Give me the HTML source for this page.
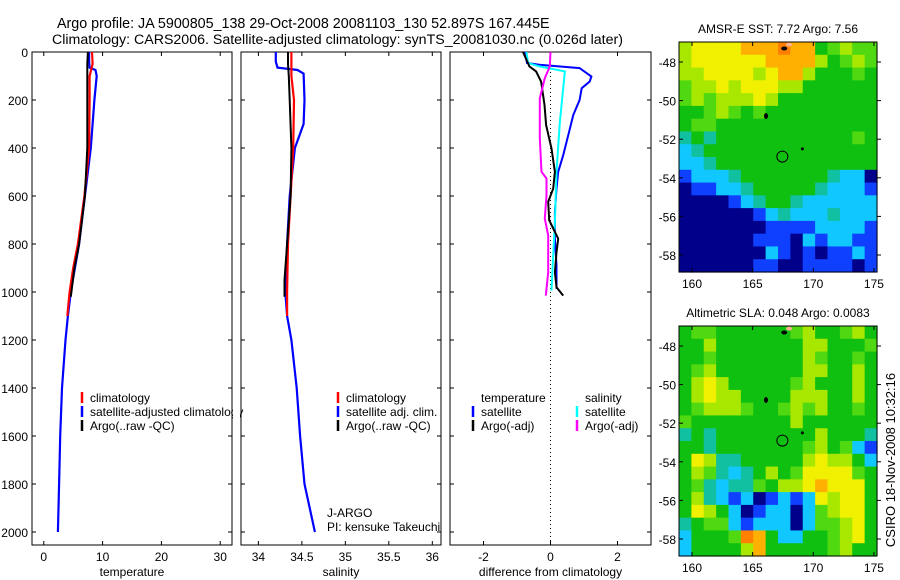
<!DOCTYPE html>
<html><head><meta charset="utf-8"><style>
body{margin:0;background:#fff;width:900px;height:580px;overflow:hidden}
svg{display:block;font-family:"Liberation Sans",sans-serif}
</style></head><body>
<svg id="c" width="900" height="580"></svg>
<script>
// ---- profile data ----
const tDepth=[0,40,65,75,100,200,400,600,800,900,1000,1100,1200,1400,1600,1800,2000];
const tSat=[7.7,7.7,7.8,8.8,9.0,8.6,8.0,7.0,6.0,5.3,4.6,4.1,3.7,3.1,2.8,2.6,2.4];
const tClimDepth=[0,50,100,200,400,600,800,900,1000,1100];
const tClim=[8.2,8.3,7.8,7.8,7.7,6.9,5.8,5.0,4.4,4.0];
const tArgoDepth=[0,50,100,200,400,600,800,900,1020];
const tArgo=[7.5,7.4,7.4,7.4,7.4,7.0,6.0,5.2,4.6];
const sDepth=[0,40,65,75,90,200,300,400,600,800,1000,1100,1200,1400,1600,1800,2000];
const sSat=[34.2,34.2,34.22,34.45,34.52,34.53,34.52,34.42,34.36,34.33,34.31,34.33,34.38,34.44,34.48,34.53,34.65];
const sClimDepth=[0,50,100,200,400,600,800,1000,1100];
const sClim=[34.38,34.38,34.38,34.41,34.40,34.37,34.34,34.33,34.33];
const sArgoDepth=[0,50,100,200,400,600,800,950,1020];
const sArgo=[34.34,34.34,34.35,34.36,34.38,34.37,34.33,34.30,34.30];
const dTSatDepth=[0,46,53,67,102,123,151,200,262,346,430,499,569,667,778,890,987];
const dTSat=[-0.77,-0.70,-0.33,0.87,1.22,1.17,0.93,0.87,0.68,0.53,0.38,0.23,0.18,0.13,0.13,0.18,0.18];
const dSSatDepth=[0,46,60,81,151,290,499,708,848,994];
const dSSat=[-0.72,-0.67,-0.33,0.43,0.38,0.28,0.18,0.13,0.08,0.03];
const dTArgoDepth=[0,60,81,123,220,304,402,499,569,624,701,778,834,918,980,1015];
const dTArgo=[-0.82,-0.63,-0.43,-0.28,-0.18,-0.13,0.03,0.13,0.08,-0.07,-0.04,0.23,0.18,0.13,0.18,0.38];
const dSArgoDepth=[0,60,109,193,360,499,527,597,694,764,918,1015];
const dSArgo=[0.0,-0.02,-0.17,-0.32,-0.32,-0.27,-0.12,-0.12,-0.17,-0.07,-0.07,-0.14];
const depthTicks=[0,200,400,600,800,1000,1200,1400,1600,1800,2000];
const tTicks=[0,10,20,30];
const sTicks=[34,34.5,35,35.5,36];
const sTickLabels=["34","34.5","35","35.5","36"];
const dTicks=[-2,0,2];
// ---- map data ----
const latTicks=[48,50,52,54,56,58];
const lonTicks=[160,165,170,175];
const sstRows=["lyyyyoooroogGlGG","lyyyyyyoooolgGlG","llyyyylyoolgggGg","Gllylyyyllgggggg","GlGlllylgggggggg","ggGlGgGggggggggg","gGGggggggggggggg","tgtgggggggggggGg","ctgggggggggggggg","cctggggggggggggg","bccctgggggggtccd","dbbcctgggggtcccb","ddddbctggtcccccc","ddddddbctccctccc","dddddddbbbbccccb","ddddddbbbdcbccbb","dddddddcbdbdbbcb","ddddddbbddbbbbdb"];
const slaRows=["gGGggggggGlggGlg","gglgggggggllgggG","ggGggggggglGggGg","gGlgggggggllgglg","glylgggggGlggglg","glyllgggglllgglg","gGlllGggGlGlggGg","Ggggggggglgggggg","tgtgggggggglgggt","ggtgggggggGlgGcb","gylttggggglyllgc","glGtctglgGyyyyGg","gGtcttGgllyoyyyg","gltcbcdbcbcylyyg","gylgcdbccdcGlyyg","tgGGcbcccdcGGlyg","cgggGrogccggGlyg","cgggglogggggGlgg"];
const palette={d:"#00008a",b:"#1040ff",c:"#10c8ff",t:"#10c0a0",g:"#10c010",G:"#50d810",l:"#a8e800",y:"#f0f000",o:"#ffb000",r:"#ff8000"};

const svg=document.getElementById('c');
const NS="http://www.w3.org/2000/svg";
function mk(tag,attrs,parent){const e=document.createElementNS(NS,tag);for(const k in attrs)e.setAttribute(k,attrs[k]);(parent||svg).appendChild(e);return e;}
function txt(x,y,s,anchor,size,parent){const e=mk('text',{x:x,y:y,'text-anchor':anchor||'start','font-size':size||12,fill:'#000'},parent);e.textContent=s;return e;}

const Y0=52,Y1=545;
const yD=d=>Y0+0.24*d;
const panels=[
 {x0:32,x1:232,v0:-2,v1:32,name:'temperature-panel',label:'temperature',ticks:tTicks,tl:tTicks.map(String)},
 {x0:241,x1:441,v0:33.8,v1:36.1,name:'salinity-panel',label:'salinity',ticks:sTicks,tl:sTickLabels},
 {x0:450,x1:651,v0:-3,v1:3,name:'difference-panel',label:'difference from climatology',ticks:dTicks,tl:dTicks.map(String)}
];
panels.forEach(p=>{p.x=v=>p.x0+(v-p.v0)/(p.v1-p.v0)*(p.x1-p.x0);});

function line(p,vals,deps,color,w,name,g){
  const pts=vals.map((v,i)=>p.x(v).toFixed(1)+','+yD(deps[i]).toFixed(1)).join(' ');
  const e=mk('polyline',{points:pts,fill:'none',stroke:color,'stroke-width':w},g);
  
  
}

panels.forEach((p,pi)=>{
  const g=mk('g',{});
  
  
  mk('rect',{x:p.x0,y:Y0,width:p.x1-p.x0,height:Y1-Y0,fill:'#fff',stroke:'#000','stroke-width':1},g);
  p.ticks.forEach((t,i)=>{
    const x=p.x(t);
    mk('line',{x1:x,y1:Y1,x2:x,y2:Y1-4,stroke:'#000'},g);
    mk('line',{x1:x,y1:Y0,x2:x,y2:Y0+4,stroke:'#000'},g);
    const l=txt(x,561,p.tl[i],'middle',12,g);
    
    
  });
  depthTicks.forEach(d=>{
    const y=yD(d);
    mk('line',{x1:p.x0,y1:y,x2:p.x0+4,y2:y,stroke:'#000'},g);
    mk('line',{x1:p.x1,y1:y,x2:p.x1-4,y2:y,stroke:'#000'},g);
  });
  const xl=txt((p.x0+p.x1)/2,576,p.label,'middle',12,g);
  
  
});
depthTicks.forEach(d=>{
  const l=txt(28,yD(d)+5,String(d),'end',12);
  
  
});
const P1=panels[0],P2=panels[1],P3=panels[2];
line(P1,tSat,tDepth,'#0000ff',2.2,'temp-satellite-line');
line(P1,tClim,tClimDepth,'#ff0000',2.2,'temp-climatology-line');
line(P1,tArgo,tArgoDepth,'#000',2,'temp-argo-line');
line(P2,sSat,sDepth,'#0000ff',2.2,'sal-satellite-line');
line(P2,sClim,sClimDepth,'#ff0000',2.2,'sal-climatology-line');
line(P2,sArgo,sArgoDepth,'#000',2,'sal-argo-line');
const zl=mk('line',{x1:P3.x(0),y1:Y0,x2:P3.x(0),y2:Y1,stroke:'#000','stroke-dasharray':'1,3'});


line(P3,dTSat,dTSatDepth,'#0000ff',2,'diff-temp-satellite');
line(P3,dSSat,dSSatDepth,'#00ffff',2,'diff-sal-satellite');
line(P3,dTArgo,dTArgoDepth,'#000',2,'diff-temp-argo');
line(P3,dSArgo,dSArgoDepth,'#ff00ff',2,'diff-sal-argo');

function legend(x,y,items,name){
  const g=mk('g',{});
  
  
  items.forEach((it,i)=>{
    if(it[1])mk('line',{x1:x,y1:y+i*14-10,x2:x,y2:y+i*14+1,stroke:it[1],'stroke-width':2.5},g);
    txt(x+8,y+i*14,it[0],'start',12,g);
  });
}
legend(82,402,[['climatology','#f00'],['satellite-adjusted climatology','#00f'],['Argo(..raw -QC)','#000']],'temp-legend');
mk('rect',{x:233,y:380,width:7,height:60,fill:'#fff'});
legend(338,402,[['climatology','#f00'],['satellite adj. clim.','#00f'],['Argo(..raw -QC)','#000']],'sal-legend');
legend(473,402,[['temperature',null],['satellite','#00f'],['Argo(-adj)','#000']],'diff-temp-legend');
legend(577,402,[['salinity',null],['satellite','#0ff'],['Argo(-adj)','#f0f']],'diff-sal-legend');
txt(327,517,'J-ARGO','start',12);
txt(327,531,'PI: kensuke Takeuchi','start',12);

let t1=txt(57,28,'Argo profile: JA 5900805_138 29-Oct-2008 20081103_130 52.897S 167.445E','start',14.3);


let t2=txt(52,44,'Climatology: CARS2006. Satellite-adjusted climatology: synTS_20081030.nc (0.026d later)','start',14.2);



// ---- maps ----
function map(top,rows,title,name,cy){
  const L=679,R=877,B=top+230;
  const lonX=lo=>692+(lo-160)*12.13;
  const latY=la=>top+20+(la-48)*19.3;
  const g=mk('g',{});
  
  
  const nr=rows.length,nc=rows[0].length,cw=(R-L)/nc,ch=(B-top)/nr;
  rows.forEach((r,i)=>{for(let j=0;j<nc;j++){
    mk('rect',{x:(L+j*cw).toFixed(2),y:(top+i*ch).toFixed(2),width:(cw+0.6).toFixed(2),height:(ch+0.6).toFixed(2),fill:palette[r[j]]},g);
  }});
  mk('rect',{x:L,y:top,width:R-L,height:B-top,fill:'none',stroke:'#000'},g);
  latTicks.forEach(la=>{const y=latY(la);mk('line',{x1:L,y1:y,x2:L+4,y2:y,stroke:'#000'},g);mk('line',{x1:R,y1:y,x2:R+4,y2:y,stroke:'#000'},g);txt(L-3,y+5,'-'+la,'end',12,g);});
  lonTicks.forEach(lo=>{const x=lonX(lo);mk('line',{x1:x,y1:top,x2:x,y2:top+4,stroke:'#000'},g);mk('line',{x1:x,y1:B,x2:x,y2:B-4,stroke:'#000'},g);txt(x,B+16,String(lo),'middle',12,g);});
  mk('ellipse',{cx:lonX(167.6),cy:latY(47.3),rx:3,ry:2,fill:'#000'},g);
  mk('ellipse',{cx:lonX(168),cy:latY(47.1),rx:3,ry:2,fill:'#ffb090'},g);
  mk('ellipse',{cx:lonX(166.1),cy:latY(50.8),rx:2,ry:3,fill:'#000'},g);
  mk('ellipse',{cx:lonX(169.1),cy:latY(52.5),rx:1.5,ry:1.5,fill:'#000'},g);
  const c=mk('circle',{cx:lonX(167.45),cy:latY(52.9),r:5.5,fill:'none',stroke:'#000','stroke-width':1},g);
  
  
  const tt=txt(778,top-9,title,'middle',12);
  
  
}
map(42,sstRows,'AMSR-E SST: 7.72 Argo: 7.56','sst-map');
map(326,slaRows,'Altimetric SLA: 0.048 Argo: 0.0083','sla-map');
const st=txt(0,0,'CSIRO 18-Nov-2008 10:32:16','middle',13);
st.setAttribute('transform','translate(895,460) rotate(-90)');


</script>
</body></html>
